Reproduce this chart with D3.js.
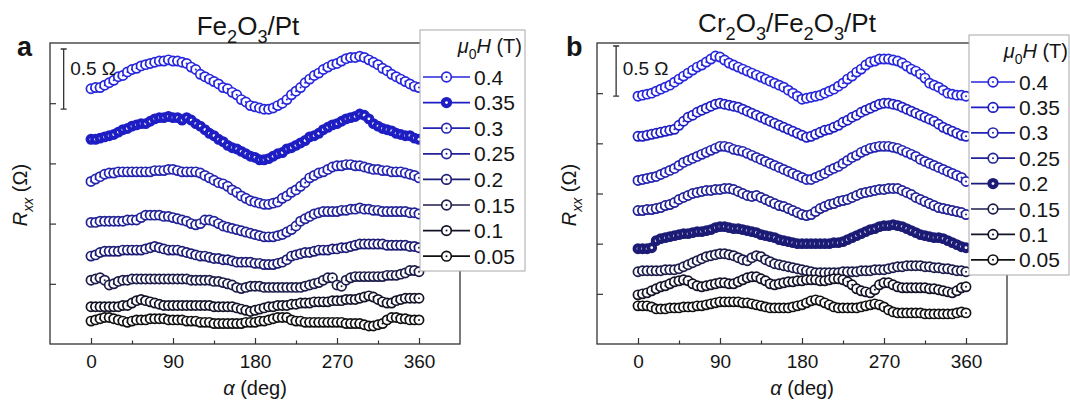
<!DOCTYPE html>
<html>
<head>
<meta charset="utf-8">
<script src="https://cdn.jsdelivr.net/npm/d3@7"></script>
<style>
  body { margin: 0; background: #fff; }
  svg text { font-family: 'Liberation Sans', Arial, sans-serif; fill: #151515; }
</style>
</head>
<body>
<div id="chart"></div>
<script>
const width = 1070,
  height = 401;

// field values (T), top curve first
const fields = ['0.4', '0.35', '0.3', '0.25', '0.2', '0.15', '0.1', '0.05'];
const colors = ['#2626dc', '#1e1ec4', '#2424b2', '#222298', '#1c1c76', '#1c1c4a', '#141428', '#111111'];

// rotation angle grid (deg) and ticks
const angles = d3.range(0, 361, 5);
const xTicks = [0, 90, 180, 270, 360];
const xMinor = [45, 135, 225, 315];

// panel a, Fe2O3/Pt : Rxx offset (Ohm)
const aR04 = [1.62,1.63,1.63,1.65,1.67,1.69,1.72,1.73,1.76,1.78,1.79,1.81,1.82,1.83,1.84,1.85,1.85,1.86,1.85,1.85,1.84,1.83,1.80,1.78,1.74,1.72,1.70,1.68,1.66,1.63,1.62,1.59,1.57,1.53,1.51,1.48,1.47,1.46,1.45,1.45,1.46,1.48,1.50,1.53,1.57,1.60,1.63,1.67,1.70,1.73,1.75,1.78,1.80,1.82,1.83,1.85,1.87,1.88,1.88,1.89,1.88,1.86,1.84,1.82,1.79,1.77,1.74,1.72,1.70,1.68,1.66,1.64,1.63];
const aR035 = [1.20,1.20,1.21,1.22,1.23,1.24,1.26,1.28,1.29,1.31,1.32,1.33,1.33,1.35,1.37,1.38,1.38,1.39,1.38,1.38,1.36,1.38,1.36,1.33,1.31,1.28,1.25,1.23,1.20,1.18,1.15,1.13,1.12,1.10,1.08,1.06,1.05,1.03,1.03,1.04,1.06,1.08,1.09,1.12,1.13,1.15,1.17,1.19,1.22,1.23,1.25,1.28,1.30,1.32,1.33,1.35,1.37,1.38,1.39,1.41,1.40,1.37,1.33,1.31,1.29,1.28,1.27,1.25,1.24,1.23,1.23,1.21,1.20];
const aR03 = [0.85,0.87,0.89,0.91,0.92,0.92,0.93,0.93,0.93,0.93,0.93,0.93,0.93,0.93,0.94,0.94,0.94,0.95,0.95,0.94,0.93,0.93,0.93,0.93,0.92,0.90,0.88,0.86,0.84,0.83,0.81,0.78,0.76,0.73,0.71,0.69,0.68,0.67,0.66,0.66,0.67,0.68,0.71,0.73,0.76,0.78,0.81,0.84,0.88,0.90,0.92,0.93,0.95,0.97,0.98,0.98,0.99,0.99,0.98,0.98,0.97,0.96,0.95,0.95,0.94,0.94,0.93,0.93,0.93,0.92,0.91,0.90,0.88];
const aR025 = [0.51,0.51,0.52,0.52,0.52,0.52,0.52,0.52,0.53,0.53,0.53,0.55,0.57,0.57,0.57,0.57,0.56,0.56,0.55,0.54,0.53,0.52,0.50,0.49,0.50,0.53,0.53,0.52,0.50,0.48,0.47,0.46,0.45,0.44,0.43,0.42,0.41,0.40,0.39,0.39,0.39,0.40,0.41,0.43,0.45,0.48,0.52,0.54,0.56,0.58,0.59,0.60,0.60,0.60,0.60,0.61,0.61,0.62,0.62,0.63,0.62,0.62,0.61,0.61,0.60,0.60,0.60,0.60,0.60,0.60,0.59,0.59,0.58];
const aR02 = [0.23,0.24,0.26,0.27,0.27,0.27,0.27,0.28,0.28,0.28,0.28,0.28,0.29,0.30,0.31,0.30,0.29,0.28,0.28,0.28,0.27,0.26,0.25,0.24,0.23,0.23,0.22,0.21,0.21,0.20,0.20,0.19,0.18,0.18,0.18,0.18,0.17,0.17,0.16,0.16,0.16,0.17,0.18,0.20,0.23,0.24,0.25,0.26,0.26,0.27,0.28,0.28,0.28,0.29,0.29,0.30,0.30,0.31,0.32,0.33,0.33,0.33,0.33,0.33,0.33,0.32,0.32,0.32,0.32,0.32,0.31,0.31,0.30];
const aR015 = [0.03,0.04,0.05,0.03,-0.01,0.00,0.02,0.03,0.03,0.04,0.04,0.04,0.04,0.04,0.04,0.04,0.04,0.04,0.04,0.04,0.04,0.04,0.03,0.03,0.03,0.03,0.03,0.02,0.02,0.01,0.00,-0.01,-0.03,-0.04,-0.03,-0.02,-0.02,-0.02,-0.03,-0.03,-0.03,-0.03,-0.03,-0.03,-0.03,-0.03,-0.03,-0.02,-0.01,0.00,0.01,0.03,0.05,0.05,-0.01,-0.02,0.03,0.05,0.06,0.06,0.06,0.06,0.06,0.06,0.06,0.07,0.07,0.07,0.08,0.09,0.11,0.11,0.10];
const aR01 = [-0.19,-0.19,-0.19,-0.19,-0.19,-0.19,-0.19,-0.18,-0.18,-0.16,-0.14,-0.13,-0.14,-0.15,-0.16,-0.17,-0.18,-0.18,-0.18,-0.18,-0.18,-0.18,-0.18,-0.18,-0.18,-0.18,-0.18,-0.19,-0.19,-0.19,-0.19,-0.19,-0.20,-0.21,-0.22,-0.23,-0.22,-0.21,-0.20,-0.19,-0.19,-0.18,-0.18,-0.18,-0.17,-0.17,-0.16,-0.16,-0.16,-0.15,-0.15,-0.15,-0.15,-0.14,-0.14,-0.14,-0.13,-0.13,-0.13,-0.12,-0.11,-0.10,-0.11,-0.13,-0.15,-0.16,-0.16,-0.14,-0.13,-0.12,-0.12,-0.12,-0.12];
const aR005 = [-0.31,-0.30,-0.29,-0.28,-0.28,-0.29,-0.30,-0.31,-0.32,-0.31,-0.30,-0.30,-0.30,-0.29,-0.29,-0.29,-0.29,-0.30,-0.30,-0.30,-0.30,-0.31,-0.31,-0.31,-0.32,-0.32,-0.32,-0.33,-0.33,-0.33,-0.33,-0.33,-0.33,-0.33,-0.32,-0.32,-0.32,-0.31,-0.31,-0.30,-0.29,-0.28,-0.28,-0.28,-0.30,-0.31,-0.31,-0.32,-0.32,-0.32,-0.32,-0.32,-0.32,-0.32,-0.32,-0.32,-0.33,-0.33,-0.33,-0.33,-0.34,-0.35,-0.35,-0.34,-0.33,-0.30,-0.28,-0.28,-0.29,-0.29,-0.30,-0.30,-0.30];

// panel b, Cr2O3/Fe2O3/Pt : Rxx offset (Ohm)
const bR04 = [1.97,1.98,1.99,2.00,2.02,2.04,2.06,2.08,2.11,2.14,2.17,2.20,2.23,2.26,2.28,2.31,2.34,2.37,2.36,2.33,2.30,2.28,2.26,2.24,2.22,2.20,2.18,2.16,2.14,2.12,2.10,2.08,2.06,2.03,2.00,1.97,1.94,1.95,1.96,1.97,1.98,2.00,2.02,2.04,2.07,2.10,2.14,2.17,2.21,2.24,2.28,2.31,2.32,2.34,2.34,2.34,2.33,2.32,2.30,2.27,2.24,2.22,2.19,2.15,2.10,2.08,2.06,2.03,2.00,1.99,1.98,1.98,1.97];
const bR035 = [1.57,1.57,1.58,1.59,1.60,1.61,1.62,1.63,1.64,1.68,1.72,1.76,1.78,1.81,1.83,1.85,1.87,1.89,1.90,1.89,1.88,1.87,1.86,1.84,1.82,1.80,1.78,1.76,1.74,1.72,1.70,1.68,1.66,1.64,1.62,1.60,1.58,1.56,1.57,1.59,1.61,1.63,1.64,1.66,1.68,1.71,1.73,1.76,1.78,1.81,1.83,1.85,1.87,1.89,1.90,1.90,1.89,1.88,1.86,1.84,1.82,1.80,1.78,1.76,1.74,1.72,1.69,1.66,1.64,1.62,1.60,1.58,1.57];
const bR03 = [1.13,1.14,1.15,1.16,1.17,1.19,1.21,1.23,1.25,1.28,1.31,1.33,1.35,1.37,1.39,1.41,1.43,1.45,1.47,1.47,1.46,1.44,1.43,1.42,1.40,1.38,1.36,1.34,1.32,1.30,1.28,1.26,1.24,1.22,1.20,1.18,1.16,1.14,1.14,1.16,1.18,1.20,1.23,1.25,1.27,1.30,1.33,1.36,1.38,1.41,1.43,1.45,1.46,1.47,1.47,1.47,1.46,1.45,1.43,1.41,1.39,1.37,1.34,1.32,1.30,1.28,1.26,1.24,1.22,1.20,1.18,1.16,1.12];
const bR025 = [0.83,0.83,0.84,0.84,0.85,0.86,0.88,0.89,0.91,0.94,0.96,0.98,1.00,1.01,1.02,1.03,1.03,1.04,1.04,1.05,1.05,1.04,1.02,1.00,0.98,0.97,0.98,0.96,0.94,0.92,0.90,0.88,0.87,0.85,0.83,0.81,0.79,0.78,0.79,0.82,0.85,0.87,0.89,0.90,0.92,0.93,0.94,0.96,0.98,1.00,1.01,1.02,1.03,1.04,1.04,1.05,1.05,1.05,1.03,1.01,0.99,0.96,0.94,0.92,0.90,0.88,0.86,0.85,0.84,0.83,0.82,0.81,0.79];
const bR02 = [0.45,0.45,0.45,0.46,0.53,0.55,0.56,0.57,0.58,0.59,0.60,0.60,0.61,0.62,0.62,0.63,0.64,0.66,0.67,0.67,0.66,0.65,0.65,0.64,0.63,0.62,0.61,0.59,0.58,0.57,0.56,0.54,0.53,0.52,0.51,0.50,0.50,0.50,0.50,0.50,0.50,0.50,0.50,0.51,0.51,0.52,0.54,0.56,0.58,0.60,0.62,0.64,0.65,0.67,0.68,0.68,0.69,0.68,0.67,0.65,0.63,0.61,0.59,0.58,0.57,0.56,0.56,0.55,0.53,0.51,0.49,0.47,0.46];
const bR015 = [0.22,0.23,0.23,0.23,0.23,0.23,0.24,0.24,0.24,0.25,0.27,0.29,0.31,0.33,0.35,0.37,0.38,0.39,0.40,0.40,0.39,0.38,0.36,0.34,0.33,0.36,0.38,0.37,0.34,0.32,0.30,0.29,0.28,0.27,0.26,0.25,0.24,0.23,0.22,0.21,0.21,0.21,0.21,0.21,0.21,0.22,0.22,0.22,0.22,0.23,0.23,0.23,0.24,0.24,0.24,0.25,0.26,0.27,0.27,0.28,0.28,0.28,0.28,0.27,0.27,0.26,0.26,0.25,0.25,0.24,0.23,0.23,0.22];
const bR01 = [-0.01,0.00,0.01,0.03,0.05,0.07,0.08,0.10,0.12,0.13,0.14,0.13,0.10,0.08,0.07,0.08,0.09,0.10,0.11,0.11,0.10,0.10,0.12,0.14,0.16,0.17,0.17,0.15,0.13,0.10,0.09,0.10,0.11,0.12,0.12,0.13,0.13,0.14,0.14,0.14,0.13,0.13,0.14,0.15,0.15,0.14,0.12,0.09,0.05,0.03,0.02,0.01,0.04,0.09,0.11,0.11,0.09,0.07,0.06,0.06,0.06,0.06,0.06,0.06,0.05,0.05,0.04,0.03,0.02,0.01,0.03,0.06,0.07];
const bR005 = [-0.12,-0.12,-0.12,-0.13,-0.15,-0.15,-0.15,-0.14,-0.14,-0.14,-0.13,-0.13,-0.13,-0.12,-0.12,-0.11,-0.10,-0.09,-0.08,-0.08,-0.08,-0.08,-0.08,-0.09,-0.09,-0.10,-0.11,-0.12,-0.13,-0.14,-0.14,-0.14,-0.14,-0.14,-0.13,-0.12,-0.11,-0.09,-0.07,-0.06,-0.07,-0.09,-0.11,-0.13,-0.14,-0.14,-0.14,-0.14,-0.14,-0.13,-0.12,-0.11,-0.10,-0.11,-0.13,-0.16,-0.18,-0.19,-0.19,-0.19,-0.19,-0.19,-0.19,-0.20,-0.20,-0.20,-0.20,-0.20,-0.20,-0.20,-0.19,-0.18,-0.19];

const aTicks = [0, 0.5, 1, 1.5];
const bTicks = [0, 0.5, 1, 1.5, 2];

const font = "'Liberation Sans', Arial, sans-serif";
const plotTop = 43,
  plotBottom = 344;

const panels = [
  {
    label: 'a', labelX: 17,
    title: [['Fe'], ['2', 'sub'], ['O'], ['3', 'sub'], ['/Pt']], titleX: 248, titleY: 35,
    series: [aR04, aR035, aR03, aR025, aR02, aR015, aR01, aR005], filled: 1,
    range: [50, 460], yDomain: [-0.5, 2.0], yTicks: aTicks,
    bar: {x: -30, y: 1.45}, yTitleX: 27,
    legend: {x: 420, y: 30, w: 105, h: 241, title: 522, row0: 77, step: 25.6, l0: 423, l1: 470, tx: 474}
  },
  {
    label: 'b', labelX: 566,
    title: [['Cr'], ['2', 'sub'], ['O'], ['3', 'sub'], ['/Fe'], ['2', 'sub'], ['O'], ['3', 'sub'], ['/Pt']], titleX: 787, titleY: 32,
    series: [bR04, bR035, bR03, bR025, bR02, bR015, bR01, bR005], filled: 4,
    range: [597, 1007], yDomain: [-0.5, 2.5], yTicks: bTicks,
    bar: {x: -24, y: 1.97}, yTitleX: 576,
    legend: {x: 969, y: 35, w: 100, h: 240, title: 1068, row0: 82, step: 25.4, l0: 971, l1: 1015, tx: 1019}
  }
];

let svg = d3.select('#chart').append('svg')
  .attr('width', width)
  .attr('height', height);

// text with italic / subscript parts
function richText(sel, parts, size) {
  let shift = 0;
  parts.forEach(p => {
    let style = p[1] || '';
    let sub = style.indexOf('sub') >= 0;
    let t = sel.append('tspan').text(p[0]);
    if (style.indexOf('it') >= 0) t.style('font-style', 'italic');
    let target = sub ? size * 0.3 : 0;
    if (target !== shift) {
      t.attr('dy', target - shift);
      shift = target;
    }
    if (sub) t.style('font-size', (size * 0.7) + 'px');
  });
}

function drawMarker(sel, color, filled, r) {
  sel.append('circle')
    .attr('r', r)
    .attr('fill', filled ? color : '#fff')
    .attr('stroke', color)
    .attr('stroke-width', 1.7);
  sel.append('circle')
    .attr('r', filled ? 1.4 : 1)
    .attr('fill', filled ? '#fff' : color);
}

panels.forEach(p => {
  let x = d3.scaleLinear().domain([-45, 405]).range(p.range);
  let y = d3.scaleLinear().domain(p.yDomain).range([plotBottom, plotTop]);
  let g = svg.append('g');

  // data
  let line = d3.line()
    .x((d, i) => x(angles[i]))
    .y(d => y(d));

  p.series.forEach((vals, si) => {
    let color = colors[si];
    let filled = si === p.filled;
    let s = g.append('g');
    s.append('path')
      .attr('d', line(vals))
      .attr('fill', 'none')
      .attr('stroke', color)
      .attr('stroke-width', 1.2);
    s.selectAll('g.pt')
      .data(vals)
      .enter().append('g')
        .attr('class', 'pt')
        .attr('transform', (d, i) => 'translate(' + x(angles[i]) + ',' + y(d) + ')')
        .each(function() { drawMarker(d3.select(this), color, filled, 4.6); });
  });

  // frame
  g.append('rect')
    .attr('x', p.range[0])
    .attr('y', plotTop)
    .attr('width', p.range[1] - p.range[0])
    .attr('height', plotBottom - plotTop)
    .attr('fill', 'none')
    .attr('stroke', '#333')
    .attr('stroke-width', 1.3);

  let xAxis = g.append('g')
    .attr('transform', 'translate(0,' + plotBottom + ')')
    .call(d3.axisBottom(x).tickValues(xTicks).tickSize(-6).tickPadding(11));
  xAxis.append('g')
    .call(d3.axisBottom(x).tickValues(xMinor).tickSize(-3.5).tickFormat(''));
  xAxis.selectAll('.domain').remove();
  xAxis.attr('color', '#333')
    .selectAll('line').attr('stroke-width', 1.2);
  xAxis.selectAll('text')
    .attr('font-family', font)
    .attr('font-size', 19)
    .attr('fill', '#151515');

  let yAxis = g.append('g')
    .attr('transform', 'translate(' + p.range[0] + ',0)')
    .call(d3.axisLeft(y).tickValues(p.yTicks).tickSize(-6).tickFormat(''));
  yAxis.select('.domain').remove();
  yAxis.attr('color', '#333')
    .selectAll('line').attr('stroke-width', 1.2);

  // 0.5 Ohm scale bar
  let bx = x(p.bar.x),
    by0 = y(p.bar.y),
    by1 = y(p.bar.y + 0.5);
  g.append('path')
    .attr('d', 'M' + bx + ',' + by0 + 'V' + by1 + 'M' + (bx - 3) + ',' + by0 + 'h6M' + (bx - 3) + ',' + by1 + 'h6')
    .attr('stroke', '#333')
    .attr('stroke-width', 1.3)
    .attr('fill', 'none');
  g.append('text')
    .attr('x', bx + 6.5)
    .attr('y', 75)
    .attr('font-size', 19)
    .text('0.5 \u03a9');

  // titles and labels
  let title = g.append('text')
    .attr('x', p.titleX)
    .attr('y', p.titleY)
    .attr('text-anchor', 'middle')
    .attr('font-size', 26);
  richText(title, p.title, 26);

  g.append('text')
    .attr('x', p.labelX)
    .attr('y', 56)
    .attr('font-size', 27)
    .attr('font-weight', 'bold')
    .text(p.label);

  let xTitle = g.append('text')
    .attr('x', x(180))
    .attr('y', 395)
    .attr('text-anchor', 'middle')
    .attr('font-size', 20);
  richText(xTitle, [['\u03b1', 'it'], [' (deg)']], 20);

  let yTitle = g.append('text')
    .attr('transform', 'translate(' + p.yTitleX + ',195) rotate(-90)')
    .attr('text-anchor', 'middle')
    .attr('font-size', 20);
  richText(yTitle, [['R', 'it'], ['xx', 'itsub'], [' (\u03a9)']], 20);

  // legend
  let L = p.legend;
  let lg = g.append('g');
  lg.append('rect')
    .attr('x', L.x)
    .attr('y', L.y)
    .attr('width', L.w)
    .attr('height', L.h)
    .attr('fill', '#fff')
    .attr('stroke', '#a8a8a8')
    .attr('stroke-width', 1);
  let lt = lg.append('text')
    .attr('x', L.title)
    .attr('y', L.y + 23)
    .attr('text-anchor', 'end')
    .attr('font-size', 20);
  richText(lt, [['\u03bc', 'it'], ['0', 'sub'], ['H', 'it'], [' (T)']], 20);

  let rows = lg.selectAll('g.row')
    .data(fields)
    .enter().append('g')
      .attr('class', 'row')
      .attr('transform', (d, i) => 'translate(0,' + (L.row0 + i * L.step) + ')');
  rows.append('line')
    .attr('x1', L.l0)
    .attr('x2', L.l1)
    .attr('stroke', (d, i) => colors[i])
    .attr('stroke-width', 1.7);
  rows.append('g')
    .attr('transform', 'translate(' + (L.l0 + L.l1) / 2 + ',0)')
    .each(function(d, i) { drawMarker(d3.select(this), colors[i], i === p.filled, 4.8); });
  rows.append('text')
    .attr('x', L.tx)
    .attr('dy', '0.36em')
    .attr('font-size', 21)
    .text(d => d);
});
</script>
</body>
</html>
